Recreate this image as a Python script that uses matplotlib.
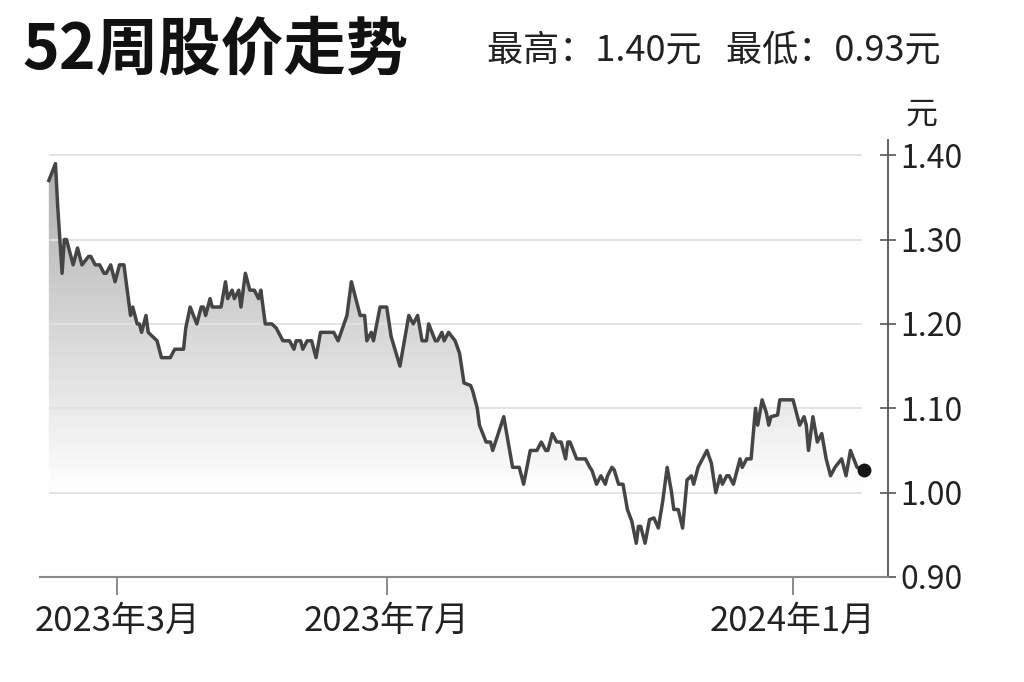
import numpy as np
import matplotlib
matplotlib.use('Agg')
import matplotlib.pyplot as plt
import matplotlib.dates as mdates
from matplotlib.colors import LinearSegmentedColormap
from matplotlib.patches import Polygon

# 中文字体
plt.rcParams['font.family'] = ['Noto Sans CJK SC', 'DejaVu Sans']

# 数据：相对 2023-03-01 的天数 和 收盘价（元）
start = np.datetime64('2023-03-01')
day_offsets = [
    -31, -28, -27, -25, -24, -23, -20, -18, -16, -13, -12, -10, -8, -6, -5, -3, -1,
    1, 3, 4, 6, 7, 9, 10, 11, 13, 14, 16, 18, 20, 24, 26, 30,
    31, 33, 36, 38, 39, 40, 42, 43, 47, 49, 50, 52, 53, 55, 56, 58, 60,
    62, 64, 65, 67, 70, 72, 75, 78, 80, 81, 83, 84, 86, 88, 90,
    92, 94, 98, 100, 104, 106, 108, 110, 112, 113, 115, 116, 119,
    122, 124, 128, 132, 134, 136, 138, 140, 141, 144, 145, 147, 148, 150,
    153, 155, 157, 160, 161, 163, 164, 167, 169, 170, 172, 175, 177, 179, 182,
    184, 187, 190, 192, 194, 195, 197, 199, 201, 203, 204, 205, 208, 212,
    214, 215, 217, 219, 221, 222, 224, 225, 227, 229, 231, 233, 235, 236, 237, 239, 241, 243,
    245, 247, 249, 251, 252, 254, 256, 258, 260, 261, 263, 267, 269, 271, 273,
    274, 276, 277, 279, 282, 283, 285, 287, 289, 290, 292, 294, 295, 296, 299, 300,
    306, 307, 309, 311, 312, 313, 315, 317, 319, 321, 323, 325, 328, 330, 332, 335, 338,
]
prices = [
    1.37, 1.39, 1.34, 1.26, 1.30, 1.30, 1.27, 1.29, 1.27, 1.28, 1.28, 1.27, 1.27, 1.26, 1.26, 1.27, 1.25,
    1.27, 1.27, 1.25, 1.21, 1.22, 1.20, 1.20, 1.19, 1.21, 1.19, 1.185, 1.18, 1.16, 1.16, 1.17, 1.17,
    1.195, 1.22, 1.20, 1.22, 1.22, 1.21, 1.23, 1.22, 1.22, 1.25, 1.23, 1.24, 1.23, 1.24, 1.22, 1.26, 1.24,
    1.24, 1.23, 1.24, 1.20, 1.20, 1.195, 1.18, 1.18, 1.17, 1.18, 1.18, 1.17, 1.18, 1.18, 1.16,
    1.19, 1.19, 1.19, 1.18, 1.21, 1.25, 1.23, 1.21, 1.21, 1.18, 1.19, 1.18, 1.22,
    1.22, 1.185, 1.15, 1.21, 1.20, 1.21, 1.18, 1.18, 1.20, 1.18, 1.18, 1.19, 1.18, 1.19,
    1.18, 1.165, 1.13, 1.127, 1.12, 1.10, 1.08, 1.06, 1.06, 1.05, 1.066, 1.09, 1.06, 1.03, 1.03,
    1.01, 1.05, 1.05, 1.06, 1.05, 1.05, 1.07, 1.06, 1.06, 1.04, 1.06, 1.06, 1.04, 1.04,
    1.03, 1.026, 1.01, 1.02, 1.01, 1.02, 1.03, 1.027, 1.01, 1.01, 0.98, 0.966, 0.94, 0.96, 0.96, 0.94, 0.968, 0.97,
    0.958, 0.99, 1.03, 1.00, 0.98, 0.98, 0.958, 1.015, 1.02, 1.01, 1.03, 1.05, 1.035, 1.00, 1.02,
    1.01, 1.02, 1.02, 1.01, 1.04, 1.03, 1.04, 1.04, 1.10, 1.08, 1.11, 1.094, 1.08, 1.09, 1.092, 1.11,
    1.11, 1.10, 1.08, 1.09, 1.08, 1.05, 1.09, 1.06, 1.07, 1.04, 1.02, 1.03, 1.04, 1.02, 1.05, 1.03, 1.027,
]
yticks = [0.90, 1.00, 1.10, 1.20, 1.30, 1.40]
ytick_labels = ['0.90', '1.00', '1.10', '1.20', '1.30', '1.40']
xtick_dates = ['2023-03-01', '2023-07-01', '2024-01-01']
xtick_labels = ['2023年3月', '2023年7月', '2024年1月']

dates = start + np.array(day_offsets).astype('timedelta64[D]')
x = mdates.date2num(dates)
y = np.array(prices)

x_left = mdates.date2num(start + np.timedelta64(-35, 'D'))
x_right = mdates.date2num(start + np.timedelta64(349, 'D'))
grid_end = mdates.date2num(start + np.timedelta64(337, 'D'))
y_bottom, y_top = 0.90, 1.418

fig = plt.figure(figsize=(10.24, 6.82), dpi=100)
ax = fig.add_axes([40 / 1024, 1 - 577 / 682, 848 / 1024, 437 / 682])

# 渐变填充
cmap = LinearSegmentedColormap.from_list('fade', ['#ffffff', '#a8a8a8'])
grad = np.linspace(y_bottom, y_top, 256).reshape(-1, 1)
im = ax.imshow(grad, extent=[x_left, x_right, y_bottom, y_top], origin='lower',
               aspect='auto', cmap=cmap, vmin=1.0, vmax=1.42, zorder=1)
verts = np.column_stack([np.r_[x[0], x, x[-1]], np.r_[y_bottom, y, y_bottom]])
clip = Polygon(verts, closed=True, facecolor='none', edgecolor='none', transform=ax.transData)
ax.add_patch(clip)
im.set_clip_path(clip)

# 网格线
ax.hlines(yticks[1:], x[0], grid_end, colors='#e2e2e2', lw=1.3, zorder=2)

# 折线和末端圆点
ax.plot(x, y, color='#454545', lw=2.5, zorder=3, solid_joinstyle='round')
ax.plot(x[-1], y[-1], 'o', color='#151515', ms=9, zorder=4)

ax.set_xlim(x_left, x_right)
ax.set_ylim(y_bottom, y_top)

# 坐标轴
ax.yaxis.tick_right()
ax.set_yticks(yticks, ytick_labels)
ax.set_xticks(mdates.date2num(np.array(xtick_dates, dtype='datetime64[D]')), xtick_labels)
for s in ['left', 'top']:
    ax.spines[s].set_visible(False)
ax.spines['right'].set_color('#555555')
ax.spines['right'].set_linewidth(1.3)
ax.spines['bottom'].set_color('#8a8a8a')
ax.spines['bottom'].set_linewidth(1.5)
ax.tick_params(axis='y', direction='inout', length=12, width=1.2, color='#555555',
               labelsize=23, labelcolor='#222222', pad=3)
ax.tick_params(axis='x', direction='out', length=13, width=1.2, color='#777777',
               labelsize=25, labelcolor='#222222', pad=6)

# 标题和文字
fig.text(905 / 1024, 1 - 115 / 682, '元', fontsize=23, va='center', ha='left', color='#222222')
fig.text(22 / 1024, 1 - 50 / 682, '52周股价走势', fontsize=45, fontweight='bold', va='center', color='#111111')
fig.text(487 / 1024, 1 - 50 / 682, '最高：1.40元   最低：0.93元', fontsize=26, va='center', color='#222222')

fig.savefig('out.png', dpi=100)
